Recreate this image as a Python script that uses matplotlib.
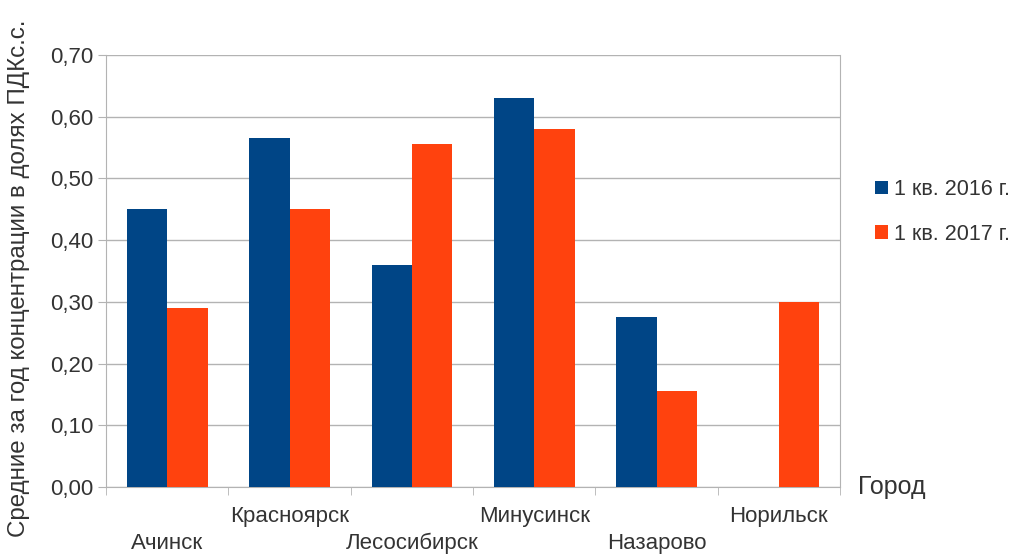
import matplotlib.pyplot as plt
import numpy as np
from matplotlib.ticker import FixedLocator

plt.rcParams['font.family'] = ['Liberation Sans', 'DejaVu Sans']

cities = ["Ачинск", "Красноярск", "Лесосибирск", "Минусинск", "Назарово", "Норильск"]
q1_2016 = [0.45, 0.565, 0.36, 0.63, 0.275, 0.0]
q1_2017 = [0.29, 0.45, 0.555, 0.58, 0.155, 0.30]
series_names = ["1 кв. 2016 г.", "1 кв. 2017 г."]
yticks = [0.0, 0.1, 0.2, 0.3, 0.4, 0.5, 0.6, 0.7]

blue = "#004586"
orange = "#ff420e"
text_color = "#333333"

fig = plt.figure(figsize=(10.13, 5.55), dpi=100)
ax = fig.add_axes([0.1047, 0.1225, 0.7246, 0.7785])

x = np.arange(len(cities))
w = 0.33
ax.bar(x - w / 2, q1_2016, width=w, color=blue, label=series_names[0], zorder=3)
ax.bar(x + w / 2, q1_2017, width=w, color=orange, label=series_names[1], zorder=3)

ax.set_xlim(-0.5, len(cities) - 0.5)
ax.set_ylim(0, 0.7)
ax.set_yticks(yticks)
ax.set_yticklabels([f"{v:.2f}".replace(".", ",") for v in yticks])
ax.yaxis.grid(True, color="#b3b3b3", linewidth=1, zorder=0)
ax.tick_params(axis="y", length=6, color="#b3b3b3", labelsize=16, labelcolor=text_color, pad=3)

# category labels alternate between two rows
ax.set_xticks(x)
ax.set_xticklabels([])
ax.tick_params(axis="x", length=0)
for i, name in enumerate(cities):
    yoff = -0.13 if i % 2 == 0 else -0.068
    ax.text(i, yoff, name, ha="center", va="center", fontsize=16,
            color=text_color, transform=ax.get_xaxis_transform())

# separator ticks between categories
ax.xaxis.set_minor_locator(FixedLocator(np.arange(-0.5, len(cities), 1.0)))
ax.tick_params(axis="x", which="minor", length=6, color="#b3b3b3")

ax.spines["top"].set_visible(False)
for side in ["left", "right", "bottom"]:
    ax.spines[side].set_color("#b3b3b3")

ax.set_ylabel("Средние за год концентрации в долях ПДКс.с.", fontsize=17.4,
              color=text_color)
ax.yaxis.set_label_coords(-0.104, 0.484)

ax.text(1.025, 0.0, "Город", transform=ax.transAxes, ha="left", va="center",
        fontsize=18, color=text_color)

leg = fig.legend(loc="upper left", bbox_to_anchor=(0.855, 0.693), frameon=False,
                 fontsize=15.5, handlelength=0.6, handleheight=0.6, handletextpad=0.3,
                 labelspacing=1.1, labelcolor=text_color, borderaxespad=0)

fig.savefig("out.png", dpi=100, facecolor="white")
